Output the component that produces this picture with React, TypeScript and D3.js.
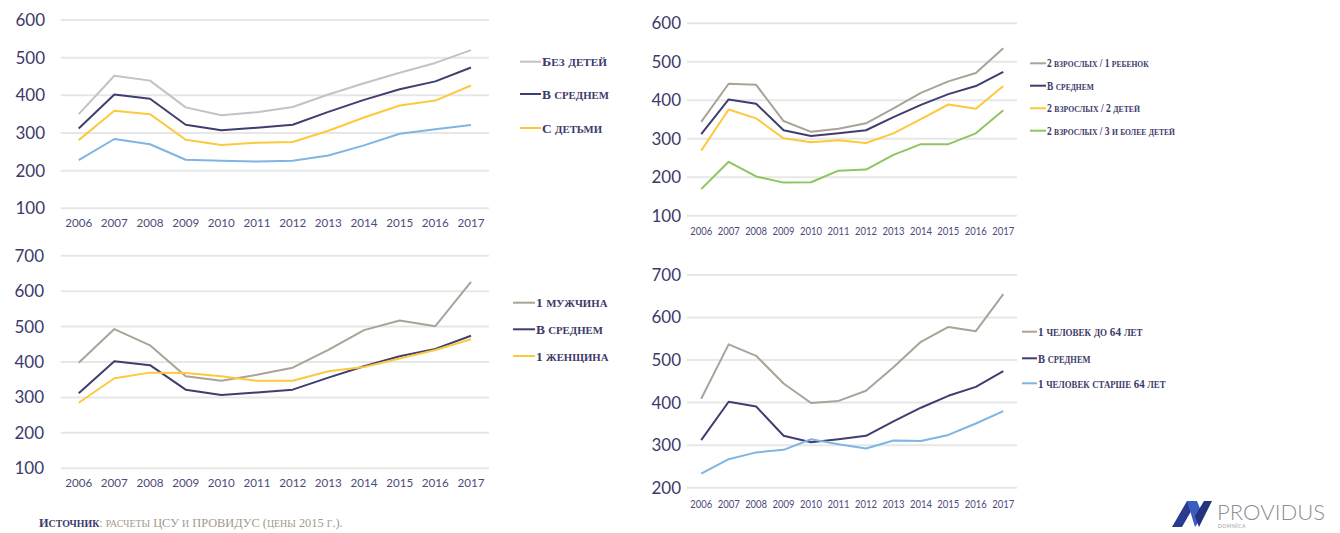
import React, { useLayoutEffect, useRef, useState } from "react";
import * as d3 from "d3";

const YEARS = ["2006","2007","2008","2009","2010","2011","2012","2013","2014","2015","2016","2017"];

const AVG = [312,402,391,322,307,314,322,356,388,416,437,474];

// Panel 1
const NO_KIDS = [350,452,439,368,347,355,369,402,432,460,486,520];
const WITH_KIDS = [281,359,350,282,268,274,276,306,341,373,386,426];
const P1_BLUE = [228,284,270,229,226,224,226,240,267,298,310,321];
const P1_TICKS = [100,200,300,400,500,600];

// Panel 2
const ONE_CHILD = [344,443,440,346,318,326,340,379,419,449,471,535];
const TWO_KIDS = [269,376,353,301,291,296,289,314,351,389,378,437];
const THREE_KIDS = [169,240,202,186,187,217,220,258,286,286,314,374];
const P2_TICKS = [100,200,300,400,500,600];

// Panel 3
const MAN = [398,493,447,360,347,364,384,434,490,517,501,626];
const WOMAN = [285,354,370,369,360,347,347,374,386,410,434,464];
const P3_TICKS = [100,200,300,400,500,600,700];

// Panel 4
const UNDER_64 = [409,537,510,445,399,404,428,483,543,578,568,655];
const OVER_64 = [233,267,283,289,314,302,292,311,310,324,351,380];
const P4_TICKS = [200,300,400,500,600,700];

const C_GRAY_LIGHT = "#c3c3c3";
const C_GRAY = "#aaa398";
const C_NAVY = "#403e6e";
const C_YELLOW = "#fdc93c";
const C_BLUE = "#7fb5e2";
const C_GREEN = "#8dc65f";
const C_TEXT = "#3c3a6a";
const C_GRID = "#e7e7e7";

// split text into runs for custom small caps (lowercase -> smaller uppercase)
function smallCapsRuns(s: string): { t: string; small: boolean }[] {
  const runs: { t: string; small: boolean }[] = [];
  for (const ch of s) {
    const small = ch !== ch.toUpperCase();
    const last = runs[runs.length - 1];
    if (last && last.small === small) last.t += small ? ch.toUpperCase() : ch;
    else runs.push({ t: small ? ch.toUpperCase() : ch, small });
  }
  return runs;
}

function SmallCaps({ text, ratio = 0.8 }: { text: string; ratio?: number }) {
  return (
    <>
      {smallCapsRuns(text).map((r, i) => (
        <tspan key={i} fontSize={r.small ? `${ratio}em` : undefined}>
          {r.t}
        </tspan>
      ))}
    </>
  );
}

// Text horizontally scaled to fit a target width
function FitText({
  x,
  y,
  width,
  children,
  ...rest
}: { x: number; y: number; width: number; children: React.ReactNode; [k: string]: any }) {
  const ref = useRef<SVGTextElement>(null);
  const [k, setK] = useState(1);
  useLayoutEffect(() => {
    if (ref.current) {
      const w = ref.current.getBBox().width;
      if (w > 0) setK(width / w);
    }
  }, [width]);
  return (
    <text ref={ref} x={0} y={0} transform={`translate(${x},${y}) scale(${k},1)`} {...rest}>
      {children}
    </text>
  );
}

type Series = { name: string | null; values: number[]; color: string };

type PanelCfg = {
  series: Series[];
  ticks: number[];
  yDomain: [number, number];
  yRange: [number, number];
  xRange: [number, number];
  gridX: [number, number];
  yLabelRight: number;
  xLabelY: number;
  xFont: number;
  xLabelWidth: number;
  yFont: number;
  legendX: [number, number];
  legendYs: number[];
  legendWidths: number[];
  legendFont: number;
};

function Panel({ cfg }: { cfg: PanelCfg }) {
  const x = d3.scalePoint<string>().domain(YEARS).range(cfg.xRange);
  const y = d3.scaleLinear().domain(cfg.yDomain).range(cfg.yRange);
  const line = d3
    .line<number>()
    .x((_, i) => x(YEARS[i]) as number)
    .y((v) => y(v));
  const legendSeries = cfg.series.filter((s) => s.name);
  return (
    <g>
      {cfg.ticks.map((t) => (
        <g key={t}>
          <line x1={cfg.gridX[0]} x2={cfg.gridX[1]} y1={y(t)} y2={y(t)} stroke={C_GRID} strokeWidth={2} />
          <text
            x={cfg.yLabelRight}
            y={y(t)}
            dy="0.35em"
            textAnchor="end"
            fontFamily="Lato, 'Open Sans', sans-serif"
            fontSize={cfg.yFont}
            fill={C_TEXT}
          >
            {t}
          </text>
        </g>
      ))}
      {YEARS.map((yr) => (
        <text
          key={yr}
          x={x(yr)}
          y={cfg.xLabelY}
          dy="0.35em"
          textAnchor="middle"
          fontFamily="Lato, 'Open Sans', sans-serif"
          fontSize={cfg.xFont}
          textLength={cfg.xLabelWidth}
          lengthAdjust="spacingAndGlyphs"
          fill="#4d4b7a"
        >
          {yr}
        </text>
      ))}
      {cfg.series.map((s, i) => (
        <path key={i} d={line(s.values) || ""} fill="none" stroke={s.color} strokeWidth={2} strokeLinejoin="round" />
      ))}
      {legendSeries.map((s, i) => (
        <g key={i}>
          <line
            x1={cfg.legendX[0]}
            x2={cfg.legendX[1]}
            y1={cfg.legendYs[i]}
            y2={cfg.legendYs[i]}
            stroke={s.color}
            strokeWidth={2}
          />
          <FitText
            x={cfg.legendX[1] + 1}
            y={cfg.legendYs[i] + cfg.legendFont * 0.35}
            width={cfg.legendWidths[i]}
            fontFamily="'Liberation Serif', 'DejaVu Serif', serif"
            fontWeight="bold"
            fontSize={cfg.legendFont}
            fill={C_TEXT}
          >
            <SmallCaps text={s.name as string} />
          </FitText>
        </g>
      ))}
    </g>
  );
}

const panels: PanelCfg[] = [
  {
    series: [
      { name: "Без детей", values: NO_KIDS, color: C_GRAY_LIGHT },
      { name: "В среднем", values: AVG, color: C_NAVY },
      { name: "С детьми", values: WITH_KIDS, color: C_YELLOW },
      { name: null, values: P1_BLUE, color: C_BLUE },
    ],
    ticks: P1_TICKS,
    yDomain: [100, 600],
    yRange: [208.3, 20],
    xRange: [78.7, 471],
    gridX: [60.7, 489],
    yLabelRight: 45,
    xLabelY: 222.7,
    xFont: 12,
    xLabelWidth: 27,
    yFont: 17,
    legendX: [520, 541],
    legendYs: [61.7, 94, 128],
    legendWidths: [65, 67, 60],
    legendFont: 13,
  },
  {
    series: [
      { name: "2 взрослых / 1 ребенок", values: ONE_CHILD, color: C_GRAY },
      { name: "В среднем", values: AVG, color: C_NAVY },
      { name: "2 взрослых / 2 детей", values: TWO_KIDS, color: C_YELLOW },
      { name: "2 взрослых / 3 и более детей", values: THREE_KIDS, color: C_GREEN },
    ],
    ticks: P2_TICKS,
    yDomain: [100, 600],
    yRange: [215.7, 23.3],
    xRange: [701.2, 1003.3],
    gridX: [687, 1017],
    yLabelRight: 681,
    xLabelY: 230.7,
    xFont: 12,
    xLabelWidth: 22,
    yFont: 17,
    legendX: [1030, 1046],
    legendYs: [63.3, 85.7, 108.3, 130.7],
    legendWidths: [102, 47, 93, 128],
    legendFont: 11.5,
  },
  {
    series: [
      { name: "1 мужчина", values: MAN, color: C_GRAY },
      { name: "В среднем", values: AVG, color: C_NAVY },
      { name: "1 женщина", values: WOMAN, color: C_YELLOW },
    ],
    ticks: P3_TICKS,
    yDomain: [100, 700],
    yRange: [468.3, 255.7],
    xRange: [78.7, 471],
    gridX: [60.7, 489],
    yLabelRight: 44,
    xLabelY: 482.7,
    xFont: 12,
    xLabelWidth: 27,
    yFont: 17,
    legendX: [513, 535],
    legendYs: [302.7, 329.3, 356],
    legendWidths: [72, 67, 73],
    legendFont: 13,
  },
  {
    series: [
      { name: "1 человек до 64 лет", values: UNDER_64, color: C_GRAY },
      { name: "В среднем", values: AVG, color: C_NAVY },
      { name: "1 человек старше 64 лет", values: OVER_64, color: C_BLUE },
    ],
    ticks: P4_TICKS,
    yDomain: [200, 700],
    yRange: [487.7, 275],
    xRange: [701.2, 1003.3],
    gridX: [687, 1017],
    yLabelRight: 681,
    xLabelY: 503.3,
    xFont: 12,
    xLabelWidth: 22,
    yFont: 17,
    legendX: [1022, 1037],
    legendYs: [331.7, 358.3, 383.3],
    legendWidths: [105, 53, 128],
    legendFont: 12.5,
  },
];

export default function App() {
  return (
    <svg
      width={1340}
      height={533}
      style={{ position: "absolute", left: 0, top: 0, display: "block", background: "#fff" }}
    >
      <rect x={0} y={0} width={1340} height={533} fill="#fff" />
      {panels.map((p, i) => (
        <Panel key={i} cfg={p} />
      ))}
      <FitText x={39} y={527} width={304} fontFamily="'Liberation Serif', 'DejaVu Serif', serif" fontSize={13}>
        <tspan fill={C_TEXT} fontWeight="bold">
          <SmallCaps text="Источник" />
        </tspan>
        <tspan fill="#a39a8c">
          <SmallCaps text=": расчеты ЦСУ и ПРОВИДУС (цены 2015 г.)." />
        </tspan>
      </FitText>
      <g>
        <path d="M1172,527 L1187,501 L1197,501 L1182,527 Z" fill="#2a3a8f" />
        <path d="M1187,501 L1197,501 L1203,516 L1195,527 Z" fill="#3b5cc0" />
        <path d="M1199,527 L1212,501 L1204,501 L1195,516 Z" fill="#24337e" />
        <text
          x={1217}
          y={520}
          fontFamily="Lato, 'Open Sans', sans-serif"
          fontWeight={300}
          fontSize={22}
          textLength={108}
          lengthAdjust="spacingAndGlyphs"
          fill="#8e8e96"
        >
          PROVIDUS
        </text>
        <text x={1218} y={528} fontFamily="Lato, sans-serif" fontSize={5} fill="#9a9aa3" letterSpacing={0.5}>
          DOMNĪCA
        </text>
      </g>
    </svg>
  );
}
